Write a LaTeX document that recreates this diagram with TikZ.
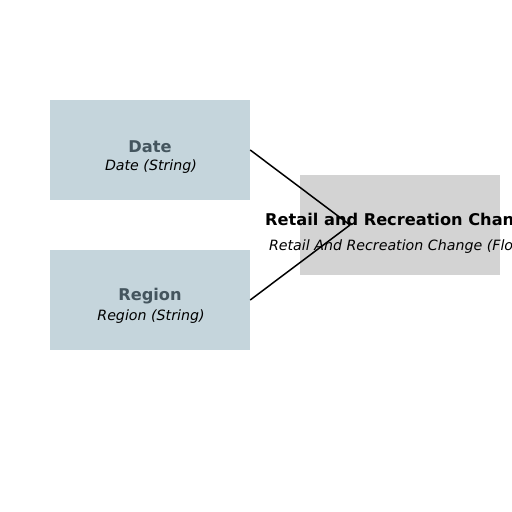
\documentclass[tikz,border=0pt]{standalone}
\usepackage{fontspec}
\setmainfont{DejaVu Sans}
\begin{document}
\begin{tikzpicture}[x=1pt,y=-1pt,
  inbox/.style={fill=boxblue, draw=none, minimum width=200pt, minimum height=100pt, inner sep=0pt},
  outbox/.style={fill=boxgray, draw=none, minimum width=200pt, minimum height=100pt, inner sep=0pt},
  ttl/.style={font=\fontsize{16.2}{18}\selectfont\bfseries, text=titlegray, inner sep=0pt},
  ttlout/.style={font=\fontsize{16.2}{18}\selectfont\bfseries, text=black, inner sep=0pt},
  sub/.style={font=\fontsize{14.2}{16}\selectfont\itshape, text=black, inner sep=0pt},
  conn/.style={draw=black, line width=1.5pt}]
\definecolor{boxblue}{HTML}{C5D5DC}
\definecolor{boxgray}{HTML}{D3D3D3}
\definecolor{titlegray}{HTML}{44555E}
\useasboundingbox[fill=white] (0,0) rectangle (512,512);
\node[inbox] (date) at (150,150) {};
\node[inbox] (region) at (150,300) {};
\node[outbox] (retail) at (400,225) {};
\coordinate (join) at (350,225);
\draw[conn] (date.east) -- (join);
\draw[conn] (region.east) -- (join);
\node[ttl] (dateT) at (150,146.5) {Date};
\node[sub] (dateS) at (151,166.5) {Date (String)};
\node[ttl] (regionT) at (150,296.5) {Region};
\node[sub] (regionS) at (151,316.5) {Region (String)};
\node[ttlout] (retailT) at (401,221.5) {Retail and Recreation Change};
\node[sub] (retailS) at (401,246.5) {Retail And Recreation Change (Float)};
\end{tikzpicture}
\end{document}
